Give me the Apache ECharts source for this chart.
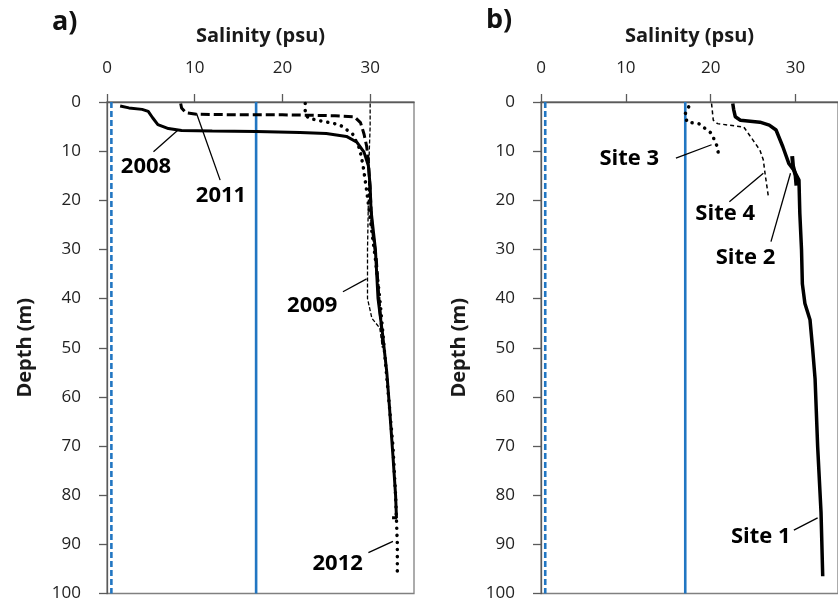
<!DOCTYPE html>
<html>
<head>
<meta charset="utf-8">
<script src="https://cdn.jsdelivr.net/npm/echarts@6/dist/echarts.min.js"></script>
<style>
  html, body { margin: 0; padding: 0; background: #ffffff; }
  #chart { width: 838px; height: 602px; }
</style>
</head>
<body>
<div id="chart"></div>
<script>
// Salinity profiles: each point is [salinity (psu), depth (m)]

// Panel a) - one site, several years
const profile2008 = [[1.5,0.8],[2.5,1.2],[4.0,1.5],[4.7,1.9],[5.2,3.2],[5.8,4.6],[7.0,5.4],[8.5,5.8],[12,5.9],[17,6.0],[22,6.2],[25,6.4],[27.3,7.0],[28.5,8.2],[29.3,10.2],[29.8,13],[30.0,17],[30.1,22],[30.6,30],[30.9,40],[31.4,47],[31.9,55],[32.2,62],[32.6,72],[32.9,80],[33.0,84.6],[32.5,84.6]];
const profile2011 = [[8.4,0.3],[8.5,1.2],[9.0,2.2],[10.2,2.5],[15,2.6],[20,2.6],[23,2.7],[26,2.8],[28.2,3.0],[28.9,4.2],[29.3,6.5],[29.6,9],[29.8,12],[30.0,18],[30.2,25],[30.7,32],[31.0,40],[31.3,46],[31.5,50]];
const profile2009 = [[30.0,0.3],[30.0,5],[29.9,10],[29.8,20],[29.7,30],[29.7,40],[30.2,44],[31.1,46],[31.4,50]];
const profile2012 = [[22.6,0.3],[22.6,2.5],[23.0,3.3],[24.5,3.9],[26.5,4.6],[28.0,6.5],[28.8,9.5],[29.2,13],[29.6,18],[30.1,25],[30.6,32],[31.1,40],[31.6,50],[32.1,60],[32.6,70],[32.9,80],[33.0,85],[33.1,90],[33.1,96]];

// Panel b) - four sites
const site1 = [[22.6,0.3],[22.7,1.5],[22.9,3],[23.5,3.7],[25.8,4.1],[26.9,4.7],[27.7,5.7],[28.5,9.1],[29.2,12.5],[29.8,13.9],[30.4,15.9],[30.5,22.6],[30.7,30],[30.8,37],[31.1,41],[31.7,44.3],[32.0,50],[32.3,56.4],[32.6,70],[33.0,83.5],[33.2,96.5]];
const site2 = [[29.6,11],[29.7,13],[30.0,15],[30.1,17]];
const site3 = [[17.4,1],[17.0,2.4],[17.2,4.1],[18.6,4.4],[20.1,6.4],[20.7,8.8],[21.0,11.2]];
const site4 = [[20.1,0.3],[20.3,3.7],[20.8,4.4],[23.9,5.1],[25.0,7.8],[25.8,9.8],[26.2,11.8],[26.4,14.5],[26.8,19.3]];

// Reference salinity levels drawn as vertical blue lines
const refFresh = 0.5;
const refBrackish = 17;

// Axis ticks
const salinityTicks = [0, 10, 20, 30];
const salinityMax = 35;
const depthMax = 100;
const depthStep = 10;

// Profile labels: [text, label position, leader start, leader end]
const labelsA = [
  ['2008', [4.45, 13.2], [5.3, 10.1], [8.1, 5.7]],
  ['2011', [13.0, 19.1], [12.9, 15.9], [10.2, 2.3]],
  ['2009', [23.4, 41.5], [26.9, 38.6], [29.6, 36.0]],
  ['2012', [26.3, 93.9], [29.8, 91.7], [32.6, 89.4]]
];
const labelsB = [
  ['Site 3', [10.4, 11.6], [15.9, 11.4], [20.1, 8.7]],
  ['Site 4', [21.7, 22.8], [22.2, 20.3], [26.2, 14.5]],
  ['Site 2', [24.1, 31.7], [27.1, 28.4], [29.4, 14.5]],
  ['Site 1', [25.9, 88.4], [29.8, 87.1], [32.6, 84.6]]
];

const FONT = '"Open Sans", "Liberation Sans", sans-serif';
const AXIS_COLOR = '#5a5a5a';
const BLUE = '#2176c2';

function xAxisFor(i) {
  return {
    gridIndex: i, type: 'value', position: 'top', min: 0, max: salinityMax,
    name: 'Salinity (psu)', nameLocation: 'middle', nameGap: 56,
    nameTextStyle: { fontFamily: FONT, fontSize: 20, fontWeight: 'bold', color: '#1a1a1a' },
    axisLine: { show: true, onZero: false, lineStyle: { color: AXIS_COLOR, width: 1.3 } },
    axisTick: { show: true, length: 8, customValues: salinityTicks, lineStyle: { color: AXIS_COLOR, width: 1.3 } },
    axisLabel: { customValues: salinityTicks, margin: 25, fontFamily: FONT, fontSize: 17, color: '#222' },
    splitLine: { show: false }
  };
}
function yAxisFor(i) {
  return {
    gridIndex: i, type: 'value', inverse: true, min: 0, max: depthMax, interval: depthStep,
    name: 'Depth (m)', nameLocation: 'middle', nameGap: 72,
    nameTextStyle: { fontFamily: FONT, fontSize: 20, fontWeight: 'bold', color: '#1a1a1a' },
    axisLine: { show: true, onZero: false, lineStyle: { color: AXIS_COLOR, width: 1.3 } },
    axisTick: { show: true, length: 8, lineStyle: { color: AXIS_COLOR, width: 1.3 } },
    axisLabel: { margin: 26, fontFamily: FONT, fontSize: 17, color: '#222' },
    splitLine: { show: false }
  };
}

function profile(i, data, style) {
  return {
    type: 'line', xAxisIndex: i, yAxisIndex: i, data: data,
    showSymbol: false, symbol: 'none', z: 5, silent: true,
    lineStyle: Object.assign({ color: '#000' }, style)
  };
}
function refLines(i) {
  return [
    profile(i, [[refFresh, 0], [refFresh, depthMax]], { color: BLUE, width: 2.6, type: [6, 3] }),
    profile(i, [[refBrackish, 0], [refBrackish, depthMax]], { color: BLUE, width: 2.6 })
  ].map(s => Object.assign(s, { z: 3 }));
}
function annotations(i, labels) {
  const out = [];
  labels.forEach(l => {
    out.push(profile(i, [l[2], l[3]], { width: 1.3 }));
  });
  out.push({
    type: 'scatter', xAxisIndex: i, yAxisIndex: i, silent: true, z: 6,
    symbolSize: 0.1, itemStyle: { color: '#000000', opacity: 1 },
    data: labels.map(l => ({ name: l[0], value: l[1] })),
    label: {
      show: true, position: 'inside', formatter: '{b}',
      fontFamily: FONT, fontSize: 22, fontWeight: 'bold', color: '#000000',
      textBorderWidth: 0
    }
  });
  return out;
}

const chart = echarts.init(document.getElementById('chart'), null, { renderer: 'canvas' });
chart.setOption({
  animation: false,
  backgroundColor: '#ffffff',
  title: [
    { text: 'a)', left: 52, top: 9, padding: 0, textStyle: { fontFamily: FONT, fontSize: 27, fontWeight: 'bold', color: '#111' } },
    { text: 'b)', left: 486, top: 7, padding: 0, textStyle: { fontFamily: FONT, fontSize: 27, fontWeight: 'bold', color: '#111' } }
  ],
  grid: [
    { left: 107, top: 102, width: 307, height: 492, show: true, borderColor: '#808080', borderWidth: 1.3, containLabel: false },
    { left: 541, top: 102, width: 307, height: 492, show: true, borderColor: '#808080', borderWidth: 1.3, containLabel: false }
  ],
  xAxis: [xAxisFor(0), xAxisFor(1)],
  yAxis: [yAxisFor(0), yAxisFor(1)],
  series: [].concat(
    refLines(0),
    refLines(1),
    [
      profile(0, profile2009, { width: 1.3, type: [4, 2] }),
      profile(0, profile2012, { width: 3.5, type: [0.1, 7], cap: 'round' }),
      profile(0, profile2011, { width: 3, type: [9, 4] }),
      profile(0, profile2008, { width: 3 }),
      profile(1, site4, { width: 1.5, type: [4, 3] }),
      profile(1, site3, { width: 3.5, type: [0.1, 7], cap: 'round' }),
      profile(1, site1, { width: 3.5 }),
      profile(1, site2, { width: 4 })
    ],
    annotations(0, labelsA),
    annotations(1, labelsB)
  )
});
</script>
</body>
</html>
